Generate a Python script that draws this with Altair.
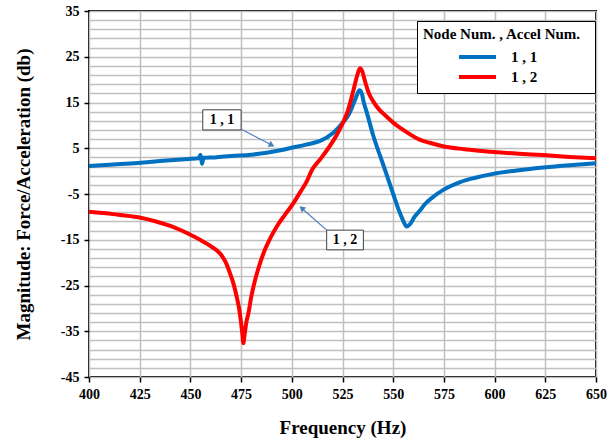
import altair as alt
import pandas as pd

# ---- data ----
freq_11 = [400, 410, 424, 435, 449, 454, 455, 455.7, 456.5, 462, 470, 480, 487.6, 495, 500,
           507, 514, 520.5, 525, 528, 530.3, 532, 533.3, 534.5, 535.5, 537, 540, 545, 550,
           553, 555.3, 556.6, 558.3, 560.5, 563.2, 565.5, 569.8, 574.7, 583, 590, 599.3,
           610, 624, 637, 650]
mag_11 = [1.1, 1.4, 1.8, 2.2, 2.65, 2.8, 3.6, 1.6, 2.9, 3.0, 3.3, 3.6, 4.0, 4.6, 5.1,
          5.8, 6.6, 8.4, 10.5, 12.3, 14.6, 16.5, 17.7, 17.0, 15.0, 12.8, 8.0, 1.5, -5.0,
          -8.8, -11.2, -12.1, -11.6, -10.0, -8.6, -7.3, -5.6, -4.1, -2.4, -1.5, -0.6,
          0.1, 0.8, 1.3, 1.7]

freq_12 = [400, 412, 424.3, 433, 440.8, 449, 454.7, 460, 464.6, 467.5, 469.5, 471.3, 472.8,
           474, 474.8, 475.6, 476.1, 476.8, 477.6, 478.6, 480, 481.9, 484, 486, 489, 492.6,
           496.5, 500.8, 504, 507.3, 510, 514, 518, 522, 525, 527.5, 530.3, 532.3,
           533.6, 534.6, 536, 538, 540.2, 543, 546.8, 550, 555, 563, 568, 575, 585, 599.3,
           612, 624, 637, 650]
mag_12 = [-8.9, -9.4, -10.1, -11.0, -12.1, -13.7, -15.0, -16.4, -18.0, -20.0, -22.3, -24.7,
          -27.4, -30.0, -32.5, -35.5, -37.6, -35.5, -33.0, -31.1, -27.5, -23.8, -20.6, -18.0,
          -15.0, -12.1, -9.6, -7.0, -4.7, -2.3, 0.3, 2.6, 5.0, 7.8, 10.4, 13.0, 17.5, 21.0,
          22.5, 22.0, 19.8, 17.0, 15.2, 13.5, 11.9, 10.6, 9.0, 6.9, 6.2, 5.4, 4.8, 4.2,
          3.8, 3.5, 3.1, 2.8]

series_names = ["1 , 1", "1 , 2"]
series_colors = ["#0070c0", "#ff0000"]

x_ticks = [400, 425, 450, 475, 500, 525, 550, 575, 600, 625, 650]
y_grid = list(range(-45, 36, 2))

# annotation callouts (label, box extents, arrow start, arrow tip)
ann_label = ["1 , 1", "1 , 2"]
ann_x1 = [456.1, 517.2]
ann_x2 = [475.0, 535.3]
ann_y1 = [9.0, -17.2]
ann_y2 = [13.4, -12.9]
ann_ax = [475.3, 517.2]
ann_ay = [9.1, -12.9]
ann_tx = [490.1, 504.9]
ann_ty = [5.7, -8.1]
ann_angle = [118, 311]

# ---- tables ----
lines = pd.concat([
    pd.DataFrame({"freq": freq_11, "mag": mag_11, "series": series_names[0]}),
    pd.DataFrame({"freq": freq_12, "mag": mag_12, "series": series_names[1]}),
])
ann = pd.DataFrame({
    "label": ann_label, "x1": ann_x1, "x2": ann_x2, "y1": ann_y1, "y2": ann_y2,
    "ax": ann_ax, "ay": ann_ay, "tx": ann_tx, "ty": ann_ty, "ang": ann_angle,
})
ann["cx"] = (ann["x1"] + ann["x2"]) / 2
ann["cy"] = (ann["y1"] + ann["y2"]) / 2

FONT = "Liberation Serif"

xscale = alt.Scale(domain=[400, 650], nice=False)
yscale = alt.Scale(domain=[-45, 35], nice=False)

major = "(datum.value + 45) % 10 == 0"

x_axis = alt.Axis(
    values=x_ticks, tickCount=len(x_ticks), title="Frequency (Hz)", grid=True,
    gridColor="#bfbfbf", gridWidth=1.5,
    labelFont=FONT, labelFontSize=14, labelFontWeight="bold", labelColor="black",
    titleFont=FONT, titleFontSize=19, titleFontWeight="bold", titleColor="black",
    tickColor="black", tickSize=5, tickWidth=1.5, labelPadding=5, titlePadding=17,
    domain=False, labelFlush=False, labelOverlap=False,
)
y_axis = alt.Axis(
    values=y_grid, tickCount=len(y_grid), title="Magnitude: Force/Acceleration (db)",
    grid=True, gridColor="#bfbfbf", gridWidth=1.5,
    labelExpr=f"{major} ? '' + datum.value : ''",
    tickOpacity={"condition": {"test": major, "value": 1}, "value": 0},
    labelFont=FONT, labelFontSize=14, labelFontWeight="bold", labelColor="black",
    titleFont=FONT, titleFontSize=19, titleFontWeight="bold", titleColor="black",
    tickColor="black", tickSize=5, tickWidth=1.5, labelPadding=5, titlePadding=27,
    domain=False, labelFlush=False, labelOverlap=False,
)

line_layer = alt.Chart(lines).mark_line(strokeWidth=4, interpolate="monotone").encode(
    x=alt.X("freq:Q", scale=xscale, axis=x_axis),
    y=alt.Y("mag:Q", scale=yscale, axis=y_axis),
    color=alt.Color(
        "series:N",
        scale=alt.Scale(domain=series_names, range=series_colors),
        legend=alt.Legend(
            title="Node Num.  ,  Accel Num.", orient="none", legendX=328, legendY=10,
            titleFont=FONT, titleFontSize=15, titleFontWeight="bold", titleColor="black",
            titleAnchor="start", titlePadding=5,
            labelFont=FONT, labelFontSize=15, labelFontWeight="bold", labelColor="black",
            symbolType="stroke", symbolStrokeWidth=4, symbolSize=1369,
            symbolOffset=34, labelOffset=13, rowPadding=0, clipHeight=20,
            strokeColor="black", fillColor="white", padding=6, cornerRadius=0,
        ),
    ),
    detail="series:N",
)

arrow_line = alt.Chart(ann).mark_rule(color="#4a7ebb", strokeWidth=1.2).encode(
    x="ax:Q", y="ay:Q", x2="tx:Q", y2="ty:Q"
)
arrow_head = alt.Chart(ann).mark_point(
    shape="triangle-up", filled=True, color="#4a7ebb", size=45, opacity=1
).encode(x="tx:Q", y="ty:Q", angle=alt.Angle("ang:Q", scale=None))
boxes = alt.Chart(ann).mark_rect(fill="white", stroke="#404040", strokeWidth=1).encode(
    x="x1:Q", x2="x2:Q", y="y1:Q", y2="y2:Q"
)
texts = alt.Chart(ann).mark_text(
    font=FONT, fontSize=14, fontWeight="bold", color="black"
).encode(x="cx:Q", y="cy:Q", text="label:N")

chart = alt.layer(line_layer, arrow_line, arrow_head, boxes, texts).properties(
    width=507, height=366,
    autosize=alt.AutoSizeParams(type="none"),
    padding={"left": 89, "top": 11, "right": 14, "bottom": 63},
    background="white",
).configure_view(stroke="black", strokeWidth=2)

chart.save("out.html", embed_options={"renderer": "svg", "actions": False})
